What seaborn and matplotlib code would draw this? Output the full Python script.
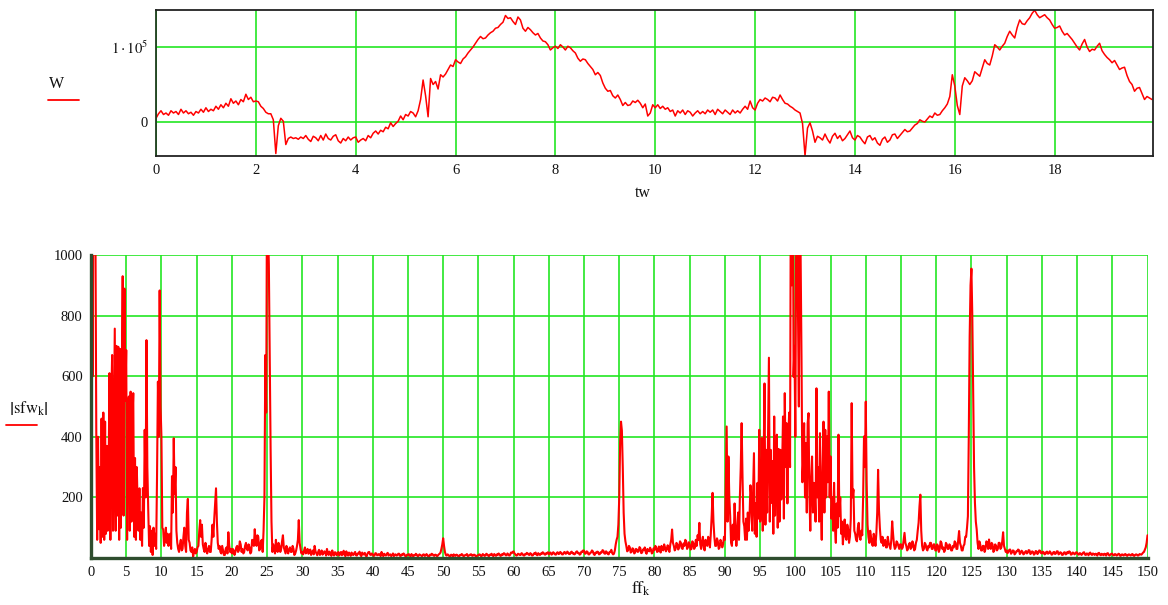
import numpy as np
import pandas as pd
import matplotlib
matplotlib.use("Agg")
import matplotlib.pyplot as plt
from matplotlib.lines import Line2D
import seaborn as sns

# ---- W(tw): signal sampled every 0.05 over 0 .. 19.95 (values in thousands) ----
tw_step = 0.05
w_thousands = [
    5, 11, 15, 10, 12, 9, 15, 12, 14, 10, 17, 12, 15, 11, 13, 9, 14, 12, 17, 13,
    19, 14, 17, 15, 21, 17, 23, 19, 25, 21, 31, 25, 28, 23, 30, 27, 37, 30, 33, 27,
    28, 27, 21, 18, 13, 11, 11, 3, -42, -5, 5, 1, -30, -22, -20, -22, -21, -23, -20, -22,
    -18, -23, -26, -19, -21, -25, -18, -24, -16, -22, -24, -19, -17, -25, -28, -22, -25, -20, -24, -21,
    -20, -27, -24, -22, -25, -18, -21, -15, -12, -16, -11, -13, -7, -9, -1, -6, -2, 1, 8, 3,
    10, 8, 14, 12, 7, 15, 30, 56, 35, 7, 58, 50, 54, 44, 63, 60, 64, 70, 76, 74,
    83, 80, 78, 84, 87, 92, 96, 100, 105, 110, 114, 111, 112, 116, 119, 121, 125, 126, 130, 133,
    142, 138, 139, 134, 130, 140, 136, 125, 121, 126, 123, 119, 116, 118, 112, 108, 107, 103, 96, 99,
    101, 98, 103, 100, 96, 101, 99, 95, 92, 85, 81, 84, 83, 78, 74, 70, 63, 66, 62, 52,
    45, 41, 42, 35, 32, 36, 30, 22, 26, 22, 23, 28, 26, 29, 25, 19, 24, 8, 12, 23,
    19, 23, 18, 21, 17, 19, 14, 16, 8, 15, 12, 16, 10, 15, 13, 8, 12, 15, 11, 14,
    11, 16, 13, 16, 10, 17, 14, 11, 16, 13, 10, 16, 12, 15, 12, 17, 21, 17, 28, 19,
    16, 25, 30, 28, 32, 30, 27, 33, 32, 28, 36, 30, 25, 24, 21, 19, 16, 14, 12, -2,
    -45, -8, -1, -12, -27, -19, -21, -24, -16, -23, -28, -19, -15, -22, -18, -25, -22, -17, -12, -21,
    -24, -18, -20, -25, -29, -20, -18, -24, -21, -28, -31, -23, -20, -27, -24, -17, -16, -22, -18, -14,
    -10, -13, -12, -8, -4, -2, 3, 1, 0, 4, 8, 6, 12, 9, 10, 15, 19, 24, 34, 63,
    48, 22, 10, 48, 59, 55, 50, 55, 67, 64, 61, 72, 83, 78, 76, 88, 103, 100, 96, 101,
    105, 114, 121, 116, 112, 126, 136, 131, 130, 135, 139, 145, 149, 143, 139, 141, 143, 139, 136, 130,
    125, 126, 128, 121, 116, 118, 114, 110, 105, 100, 96, 104, 110, 100, 94, 97, 96, 101, 105, 95,
    90, 86, 83, 79, 82, 76, 70, 72, 73, 62, 54, 50, 41, 45, 46, 38, 30, 34, 32, 30,
]

# ---- |sfw_k|: spectrum magnitude sampled every 0.125 over 0 .. 150 (two rows per 5 units) ----
ff_step = 0.125
sfw_mag = [
    340, 1500, 600, 1800, 1600, 1100, 420, 60, 400, 95, 300, 50, 460, 70, 480, 60, 450, 80, 370, 90,
    280, 610, 60, 520, 670, 90, 420, 757, 90, 700, 140, 697, 60, 690, 100, 600, 930, 140, 889, 520,
    686, 60, 500, 533, 90, 549, 120, 450, 544, 70, 330, 60, 300, 170, 90, 230, 60, 150, 40, 231,
    100, 423, 200, 719, 300, 160, 40, 105, 20, 90, 10, 100, 40, 80, 30, 270, 582, 400, 883, 500,
    400, 100, 94, 40, 60, 100, 50, 80, 40, 70, 80, 30, 270, 150, 395, 210, 300, 90, 50, 30,
    20, 45, 60, 25, 30, 70, 100, 40, 20, 150, 195, 60, 50, 25, 20, 35, 5, 20, 30, 15,
    20, 35, 40, 90, 125, 70, 110, 45, 30, 20, 50, 25, 15, 30, 40, 20, 20, 60, 110, 70,
    130, 180, 230, 120, 50, 30, 40, 20, 15, 40, 25, 10, 10, 30, 35, 15, 85, 40, 20, 30,
    15, 30, 25, 10, 20, 35, 40, 20, 25, 55, 45, 20, 30, 15, 20, 40, 50, 30, 25, 45,
    35, 15, 20, 60, 55, 40, 95, 50, 40, 75, 70, 25, 30, 55, 60, 20, 90, 200, 670, 480,
    1300, 1100, 970, 650, 360, 120, 20, 45, 30, 15, 60, 30, 20, 50, 40, 20, 30, 55, 75, 35,
    25, 15, 40, 25, 15, 30, 35, 20, 20, 40, 30, 10, 15, 25, 40, 60, 125, 50, 30, 15,
    20, 12, 25, 35, 15, 22, 30, 14, 20, 28, 10, 18, 25, 12, 40, 22, 15, 9, 20, 27,
    10, 16, 25, 11, 15, 22, 20, 8, 30, 17, 10, 21, 15, 7, 25, 14, 8, 19, 18, 9,
    12, 20, 8, 14, 20, 9, 15, 24, 10, 6, 22, 13, 8, 18, 14, 7, 18, 11, 10, 16,
    20, 9, 8, 15, 15, 21, 10, 6, 18, 12, 12, 17, 8, 5, 14, 19, 20, 11, 10, 15,
    12, 7, 8, 16, 15, 9, 10, 13, 12, 6, 20, 11, 6, 14, 10, 8, 14, 17, 8, 11,
    12, 6, 10, 15, 6, 11, 12, 8, 9, 14, 14, 7, 7, 12, 10, 15, 12, 6, 6, 11,
    10, 13, 8, 5, 13, 9, 5, 10, 9, 14, 11, 6, 7, 12, 10, 8, 6, 11, 12, 7,
    8, 13, 10, 5, 5, 11, 9, 14, 12, 8, 7, 11, 10, 6, 8, 12, 14, 18, 30, 45,
    65, 40, 20, 10, 8, 12, 10, 6, 6, 11, 9, 5, 12, 8, 7, 11, 10, 6, 5, 10,
    9, 13, 11, 6, 7, 10, 10, 13, 6, 8, 9, 12, 12, 7, 8, 11, 10, 5, 6, 9,
    9, 12, 11, 6, 7, 13, 10, 7, 8, 14, 12, 8, 6, 11, 10, 14, 9, 6, 13, 10,
    7, 12, 10, 15, 12, 7, 8, 13, 11, 16, 14, 9, 9, 15, 12, 8, 10, 18, 16, 20,
    22, 15, 12, 8, 9, 14, 13, 10, 10, 16, 14, 9, 8, 13, 12, 17, 15, 11, 10, 16,
    13, 8, 9, 15, 14, 18, 11, 9, 16, 12, 10, 15, 13, 19, 17, 12, 11, 16, 15, 19,
    12, 17, 18, 11, 13, 19, 16, 12, 11, 17, 19, 13, 14, 20, 17, 12, 12, 18, 20, 14,
    15, 21, 18, 13, 13, 19, 21, 15, 16, 12, 14, 20, 22, 16, 17, 11, 13, 21, 20, 25,
    24, 14, 15, 22, 20, 12, 12, 17, 18, 25, 22, 13, 10, 18, 16, 21, 20, 12, 13, 19,
    18, 26, 24, 15, 14, 22, 19, 13, 12, 20, 20, 27, 16, 12, 14, 25, 45, 60, 70, 110,
    200, 380, 450, 420, 300, 150, 80, 55, 40, 22, 25, 40, 35, 18, 20, 32, 30, 15, 18, 30,
    28, 20, 22, 36, 32, 16, 18, 28, 26, 35, 20, 14, 30, 24, 22, 34, 28, 15, 18, 32,
    26, 40, 35, 20, 22, 38, 30, 18, 40, 30, 25, 45, 35, 22, 28, 42, 30, 20, 45, 60,
    94, 50, 40, 25, 30, 50, 45, 28, 35, 55, 50, 32, 30, 48, 40, 60, 55, 30, 35, 52,
    45, 28, 30, 55, 50, 30, 35, 60, 40, 75, 60, 116, 45, 30, 55, 70, 35, 25, 60, 45,
    40, 70, 55, 35, 80, 140, 215, 120, 70, 40, 40, 65, 55, 30, 35, 60, 50, 35, 45, 70,
    60, 250, 434, 120, 335, 200, 138, 50, 40, 110, 60, 180, 100, 40, 90, 150, 60, 200, 300, 445,
    270, 120, 105, 60, 130, 60, 150, 90, 138, 240, 204, 90, 220, 346, 80, 180, 70, 248, 130, 423,
    120, 160, 396, 90, 313, 576, 110, 357, 150, 400, 661, 120, 357, 182, 320, 80, 467, 140, 259, 407,
    100, 360, 120, 357, 193, 300, 467, 130, 544, 300, 445, 180, 401, 480, 300, 1400, 900, 1500, 598, 700,
    400, 1100, 1300, 818, 500, 1200, 1000, 664, 250, 324, 445, 200, 379, 150, 445, 478, 200, 90, 260, 335,
    150, 248, 215, 120, 560, 200, 300, 120, 412, 180, 60, 300, 450, 150, 423, 200, 401, 250, 549, 200,
    335, 130, 200, 90, 248, 100, 50, 180, 100, 407, 138, 200, 80, 120, 45, 90, 127, 70, 60, 110,
    95, 50, 70, 130, 511, 200, 226, 90, 80, 60, 55, 100, 116, 70, 60, 90, 75, 200, 401, 300,
    516, 250, 110, 70, 50, 90, 70, 45, 40, 80, 65, 40, 80, 150, 291, 160, 100, 60, 50, 70,
    40, 55, 60, 35, 35, 70, 50, 40, 30, 60, 121, 80, 45, 30, 35, 55, 50, 40, 30, 45,
    45, 30, 35, 60, 83, 50, 40, 25, 30, 45, 50, 30, 35, 55, 45, 25, 30, 50, 60, 90,
    116, 170, 209, 90, 40, 25, 30, 50, 45, 30, 25, 40, 35, 50, 50, 30, 30, 45, 45, 25,
    25, 45, 40, 20, 30, 55, 50, 30, 35, 20, 25, 50, 45, 30, 30, 45, 40, 25, 25, 40,
    35, 55, 50, 30, 30, 60, 89, 50, 40, 25, 25, 40, 45, 70, 70, 100, 138, 400, 730, 900,
    955, 800, 549, 300, 182, 120, 94, 50, 30, 55, 45, 25, 25, 40, 40, 20, 30, 55, 50, 30,
    61, 35, 30, 50, 45, 20, 25, 45, 40, 25, 30, 50, 50, 30, 35, 55, 85, 40, 30, 20,
    25, 16, 20, 27, 28, 14, 18, 25, 24, 12, 15, 22, 22, 28, 26, 13, 17, 24, 21, 12,
    14, 20, 23, 15, 18, 26, 25, 13, 16, 22, 20, 11, 14, 23, 22, 13, 17, 25, 24, 16,
    15, 21, 19, 12, 13, 20, 21, 14, 16, 22, 18, 11, 12, 19, 20, 13, 15, 22, 22, 12,
    14, 19, 17, 10, 11, 18, 19, 12, 13, 20, 16, 22, 20, 11, 12, 18, 17, 12, 14, 19,
    18, 12, 11, 16, 15, 10, 13, 18, 19, 11, 10, 15, 14, 9, 16, 18, 12, 10, 15, 13,
    10, 14, 13, 8, 16, 17, 11, 9, 14, 12, 9, 14, 13, 8, 15, 16, 10, 8, 12, 14,
    14, 9, 9, 13, 12, 8, 10, 14, 13, 7, 8, 12, 11, 8, 12, 13, 9, 7, 11, 12,
    10, 8, 12, 13, 8, 7, 10, 12, 11, 8, 9, 13, 12, 11, 14, 18, 20, 28, 35, 50,
    75,
]
assert len(w_thousands) == 400
assert len(sfw_mag) == 1201

top_xticks = [0, 2, 4, 6, 8, 10, 12, 14, 16, 18]
top_yticks = [0, 100000]
top_yticklabels = ["0", r"$1\cdot10^{5}$"]
bottom_xticks = list(range(0, 151, 5))
bottom_yticks = [0, 200, 400, 600, 800, 1000]
bottom_yticklabels = ["", "200", "400", "600", "800", "1000"]

sns.set_theme(style="white")
plt.rcParams["font.family"] = ["Liberation Serif", "DejaVu Serif"]
plt.rcParams["mathtext.fontset"] = "stix"

RED = "#ff0000"
GRID = "#22e622"
AXIS_GREEN = "#2e4d2e"

df_w = pd.DataFrame({"tw": np.arange(len(w_thousands)) * tw_step,
                     "W": np.array(w_thousands, dtype=float) * 1e3})
df_s = pd.DataFrame({"ff": np.arange(len(sfw_mag)) * ff_step,
                     "sfw": np.array(sfw_mag, dtype=float)})

fig = plt.figure(figsize=(11.68, 6.05), dpi=100)
W, H = 1168, 605

def ax_rect(l, r, t, b):
    return [l / W, 1 - b / H, (r - l) / W, (b - t) / H]

# ---------------- upper panel: W vs tw ----------------
ax1 = fig.add_axes(ax_rect(156, 1153, 10, 156))
ax1.set_axisbelow(True)
sns.lineplot(data=df_w, x="tw", y="W", ax=ax1, color=RED, lw=1.1,
             estimator=None, sort=False, legend=False)
ax1.set_xlim(0, 19.97)
ax1.set_ylim(-45300, 149300)
ax1.set_xticks(top_xticks)
ax1.set_xticklabels([str(v) for v in top_xticks])
ax1.set_yticks(top_yticks)
ax1.set_yticklabels(top_yticklabels)
ax1.grid(True, color=GRID, lw=1.2)
ax1.tick_params(length=0, labelsize=10.5, colors="#111111", pad=6)
for s in ax1.spines.values():
    s.set_color("#222222")
    s.set_linewidth(1.3)
ax1.spines["left"].set_color("#1f3d1f")
ax1.set_xlabel("")
ax1.set_ylabel("")

# ---------------- lower panel: |sfw_k| vs ff_k ----------------
ax2 = fig.add_axes(ax_rect(91, 1147.5, 255, 558))
ax2.set_axisbelow(True)
sns.lineplot(data=df_s, x="ff", y="sfw", ax=ax2, color=RED, lw=1.5,
             estimator=None, sort=False, legend=False)
ax2.set_xlim(0, 150)
ax2.set_ylim(0, 1000)
ax2.set_xticks(bottom_xticks)
ax2.set_xticklabels([str(v) for v in bottom_xticks])
ax2.set_yticks(bottom_yticks)
ax2.set_yticklabels(bottom_yticklabels)
ax2.grid(True, color=GRID, lw=1.2)
ax2.tick_params(direction="inout", length=6, width=1.2, color="black",
                labelsize=10.5, labelcolor="#111111", pad=3)
for side in ("top", "right"):
    ax2.spines[side].set_visible(False)
for side in ("left", "bottom"):
    ax2.spines[side].set_color(AXIS_GREEN)
    ax2.spines[side].set_linewidth(2.4)
ax2.set_xlabel("")
ax2.set_ylabel("")

# ---------------- axis titles with trace keys ----------------
fig.text(57 / W, 1 - 84 / H, "W", ha="center", va="center", fontsize=11.5, color="#111111")
fig.add_artist(Line2D([48 / W, 79 / W], [1 - 100 / H, 1 - 100 / H], color=RED, lw=1.3))
fig.text(29 / W, 1 - 409 / H, r"$\left|\mathrm{sfw}_{\mathrm{k}}\right|$",
         ha="center", va="center", fontsize=12, color="#111111")
fig.add_artist(Line2D([6 / W, 37 / W], [1 - 425 / H, 1 - 425 / H], color=RED, lw=1.3))
fig.text(643 / W, 1 - 193 / H, "tw", ha="center", va="center", fontsize=11.5, color="#111111")
fig.text(641 / W, 1 - 589 / H, r"$\mathrm{ff}_{\mathrm{k}}$",
         ha="center", va="center", fontsize=12.5, color="#111111")

fig.savefig("out.png", dpi=100)
